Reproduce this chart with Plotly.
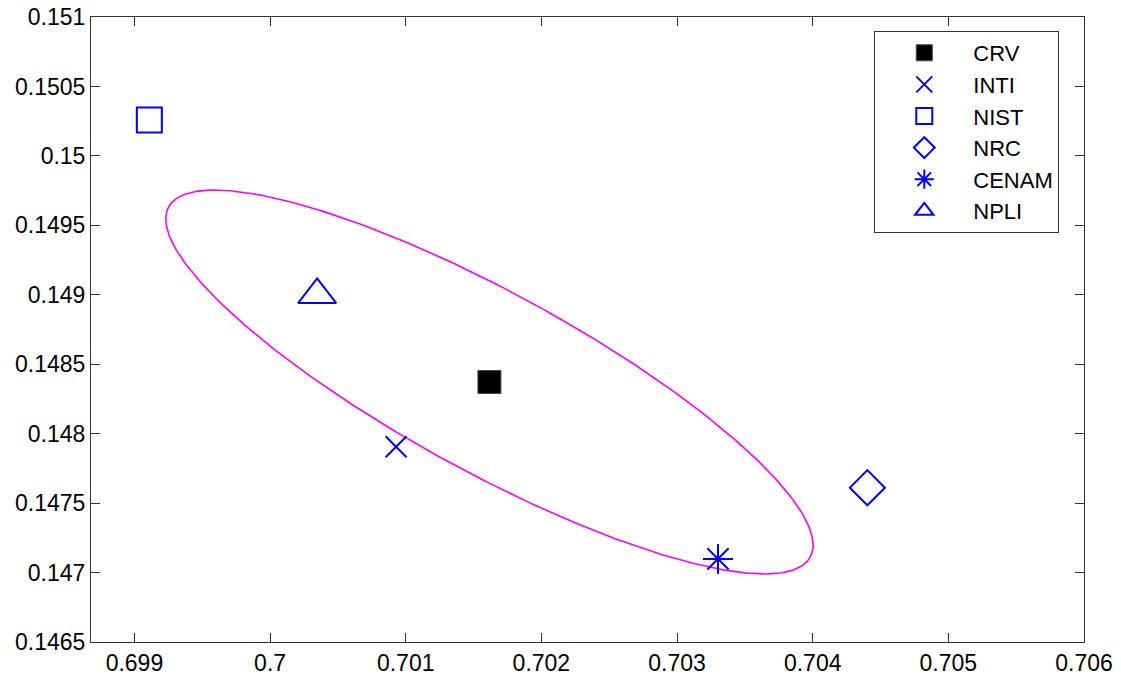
import numpy as np
import plotly.graph_objects as go

# ---- data ----
labs_names = ["CRV", "INTI", "NIST", "NRC", "CENAM", "NPLI"]
x_vals = [0.701617, 0.700929, 0.699110, 0.704403, 0.703302, 0.700347]
y_vals = [0.148372, 0.147906, 0.150258, 0.147611, 0.147098, 0.149000]

# confidence ellipse around CRV: std devs and correlation
ell_sx = 0.002386
ell_sy = 0.001382
ell_rho = -0.8495

x_ticks = [0.699, 0.700, 0.701, 0.702, 0.703, 0.704, 0.705, 0.706]
x_ticktext = ["0.699", "0.7", "0.701", "0.702", "0.703", "0.704", "0.705", "0.706"]
y_ticks = [0.1465, 0.147, 0.1475, 0.148, 0.1485, 0.149, 0.1495, 0.15, 0.1505, 0.151]
y_ticktext = ["0.1465", "0.147", "0.1475", "0.148", "0.1485", "0.149", "0.1495", "0.15", "0.1505", "0.151"]

# ---- styles ----
BLUE = "#0000ff"
styles = {
    "CRV": dict(symbol="square", size=23, color="black", line=dict(color="#444", width=1)),
    "INTI": dict(symbol="x-thin-open", size=21, color=BLUE, line=dict(color=BLUE, width=2)),
    "NIST": dict(symbol="square-open", size=25, color=BLUE, line=dict(color=BLUE, width=2)),
    "NRC": dict(symbol="diamond-open", size=27, color=BLUE, line=dict(color=BLUE, width=2)),
    "CENAM": dict(symbol="asterisk-open", size=25, color=BLUE, line=dict(color=BLUE, width=2)),
    "NPLI": dict(symbol="triangle-up-open", size=33, color=BLUE, line=dict(color=BLUE, width=2)),
}

FONT = "Liberation Sans, Arial, sans-serif"

fig = go.Figure()

# ellipse
t = np.linspace(0, 2 * np.pi, 400)
cx, cy = x_vals[0], y_vals[0]
ex = cx + ell_sx * np.cos(t)
ey = cy + ell_sy * (ell_rho * np.cos(t) + np.sqrt(1 - ell_rho ** 2) * np.sin(t))
fig.add_trace(go.Scatter(x=ex, y=ey, mode="lines", line=dict(color="#ff00ff", width=1.6),
                         showlegend=False, hoverinfo="skip"))

for name, xv, yv in zip(labs_names, x_vals, y_vals):
    fig.add_trace(go.Scatter(x=[xv], y=[yv], mode="markers", name=name,
                             marker=styles[name]))

axis_common = dict(
    showline=True, linecolor="#333", linewidth=1, mirror="ticks",
    ticks="inside", ticklen=9, tickcolor="#333", tickwidth=1,
    showgrid=False, zeroline=False, automargin=False,
    tickfont=dict(family=FONT, size=23, color="black"),
)

fig.update_xaxes(range=[0.69868, 0.706], tickvals=x_ticks, ticktext=x_ticktext, **axis_common)
fig.update_yaxes(range=[0.1465, 0.151], tickvals=y_ticks, ticktext=y_ticktext, **axis_common)

fig.update_layout(
    template="none",
    width=1121, height=677,
    margin=dict(l=91, r=37, t=17, b=35, autoexpand=False),
    paper_bgcolor="white", plot_bgcolor="white",
    font=dict(family=FONT, size=22, color="black"),
    legend=dict(
        x=0.7888, y=0.9776, xanchor="left", yanchor="top",
        bgcolor="white", bordercolor="#333", borderwidth=1,
        font=dict(family=FONT, size=22, color="black"), itemwidth=88, tracegroupgap=0,
    ),
)

fig.write_html("out.html", config={"displayModeBar": False},
               post_script="document.body.style.margin='0';document.body.style.overflow='hidden';")
